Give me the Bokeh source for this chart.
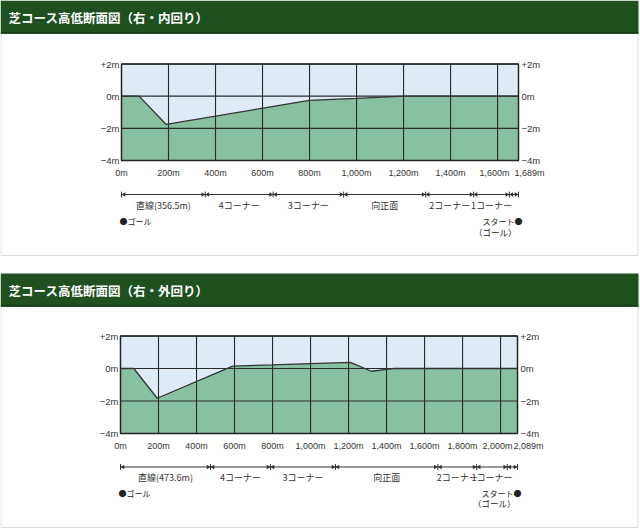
import math
from bokeh.plotting import figure
from bokeh.models import Range1d, ColumnDataSource
from bokeh.core.properties import value
from bokeh.embed import file_html
from bokeh.resources import INLINE

# ---------------- data ----------------
titles = ["芝コース高低断面図（右・内回り）", "芝コース高低断面図（右・外回り）"]

inner_dist = [0, 75, 190, 800, 1000, 1200, 1689]
inner_elev = [0, 0, -1.76, -0.26, -0.14, 0, 0]

outer_dist = [0, 70, 193, 590, 800, 1000, 1210, 1320, 1400, 1440, 2089]
outer_elev = [0, 0, -1.83, 0.15, 0.22, 0.30, 0.38, -0.17, -0.05, 0, 0]

inner_xticks = [0, 200, 400, 600, 800, 1000, 1200, 1400, 1600, 1689]
inner_xlabels = ["0m", "200m", "400m", "600m", "800m", "1,000m", "1,200m", "1,400m", "1,600m", "1,689m"]
outer_xticks = [0, 200, 400, 600, 800, 1000, 1200, 1400, 1600, 1800, 2000, 2089]
outer_xlabels = ["0m", "200m", "400m", "600m", "800m", "1,000m", "1,200m", "1,400m", "1,600m",
                 "1,800m", "2,000m", "2,089m"]

yticks = [2, 0, -2, -4]
ylabels = ["+2m", "0m", "−2m", "−4m"]

inner_sections = [0, 356.5, 645, 945, 1294, 1498, 1650, 1689]
inner_section_labels = ["直線(356.5m)", "4コーナー", "3コーナー", "向正面", "2コーナー", "1コーナー", ""]
outer_sections = [0, 473.6, 789, 1131, 1670, 1874, 2035, 2089]
outer_section_labels = ["直線(473.6m)", "4コーナー", "3コーナー", "向正面", "2コーナー", "1コーナー", ""]

# ---------------- style ----------------
W, H = 640, 530
HEADER = "#1e5020"
SKY = "#deeaf6"
GROUND = "#88c1a1"
GRID = "#2a2a2a"
TXT = "#333333"
NUM_FONT = value("Liberation Sans")
JP_FONT = value("Noto Sans CJK JP")

p = figure(width=W, height=H, x_range=Range1d(0, W), y_range=Range1d(H, 0),
           min_border=0, x_axis_location=None, y_axis_location=None,
           toolbar_location=None, output_backend="svg",
           outline_line_color=None, background_fill_color="white",
           border_fill_color="white")
for g in p.grid:
    g.visible = False


def add_ranges(tag, px0, px1, length, py_top, py_bot):
    # x: meters -> pixels ; y: elevation (+2 .. -4) -> pixels
    sx = (px1 - px0) / length
    p.extra_x_ranges[tag + "x"] = Range1d(-px0 / sx, (W - px0) / sx)
    sy = (py_bot - py_top) / 6.0
    p.extra_y_ranges[tag + "y"] = Range1d(2 - (H - py_top) / sy, 2 + py_top / sy)
    return sx


def panel(tag, title, top, hdr_h, bottom, plot_box, length, dist, elev,
          xticks, xlabels, sections, sec_labels, sec_y, goal_y):
    px0, px1, py_top, py_bot = plot_box
    # header + panel box
    p.quad(left=[0.5], right=[637.5], top=[top + hdr_h], bottom=[bottom],
           fill_color="white", line_color="#dddddd", line_width=1)
    p.quad(left=[0], right=[638], top=[top], bottom=[top + hdr_h],
           fill_color=HEADER, line_color=None)
    p.segment(x0=[0], x1=[638], y0=[top + hdr_h - 0.5], y1=[top + hdr_h - 0.5],
              line_color="#123812", line_width=1.5)
    p.text(x=[8], y=[top + hdr_h / 2 + 0.5], text=[title], text_color="white",
           text_font=JP_FONT, text_font_style="bold", text_font_size="12.5px",
           text_baseline="middle", text_align="left")

    sx = add_ranges(tag, px0, px1, length, py_top, py_bot)
    xr, yr = tag + "x", tag + "y"
    src = ColumnDataSource(dict(x=dist, y=elev, top=[2] * len(dist), bot=[-4] * len(dist)))
    p.varea(x="x", y1="y", y2="top", source=src, fill_color=SKY,
            x_range_name=xr, y_range_name=yr)
    p.varea(x="x", y1="bot", y2="y", source=src, fill_color=GROUND,
            x_range_name=xr, y_range_name=yr)
    # grid
    gx = list(range(0, int(length) + 1, 200)) + [length]
    p.segment(x0=gx, x1=gx, y0=[-4] * len(gx), y1=[2] * len(gx), line_color=GRID,
              line_width=1.1, x_range_name=xr, y_range_name=yr)
    p.segment(x0=[0] * 4, x1=[length] * 4, y0=yticks, y1=yticks, line_color=GRID,
              line_width=1.1, x_range_name=xr, y_range_name=yr)
    p.line(x="x", y="y", source=src, line_color="#333333", line_width=1.3,
           x_range_name=xr, y_range_name=yr)
    p.quad(left=[0], right=[length], top=[2], bottom=[-4], fill_color=None,
           line_color="#222222", line_width=1.4, x_range_name=xr, y_range_name=yr)

    # y tick labels
    p.text(x=[0] * 4, y=yticks, text=ylabels, x_offset=-2, text_align="right",
           text_baseline="middle", text_font=NUM_FONT, text_font_size="9.5px",
           text_color=TXT, x_range_name=xr, y_range_name=yr)
    p.text(x=[length] * 4, y=yticks, text=ylabels, x_offset=3, text_align="left",
           text_baseline="middle", text_font=NUM_FONT, text_font_size="9.5px",
           text_color=TXT, x_range_name=xr, y_range_name=yr)
    # x tick labels
    offs = [0] * (len(xticks) - 2) + [-3, 11]
    xs = ColumnDataSource(dict(x=xticks, t=xlabels, o=offs, y=[-4] * len(xticks)))
    p.text(x="x", y="y", text="t", x_offset="o", y_offset=12, source=xs,
           text_align="center", text_baseline="middle", text_font=NUM_FONT,
           text_font_size="9px", text_color=TXT, x_range_name=xr, y_range_name=yr)

    # section bar
    n = len(sections)
    p.segment(x0=[0], x1=[length], y0=[sec_y], y1=[sec_y], line_color="#333333",
              line_width=1, x_range_name=xr)
    p.segment(x0=sections, x1=sections, y0=[sec_y - 3] * n, y1=[sec_y + 3] * n,
              line_color="#333333", line_width=1, x_range_name=xr)
    inset = 2.5 / sx
    rx = [b - inset for b in sections[1:]]
    lx = [b + inset for b in sections[:-1]]
    p.scatter(x=rx, y=[sec_y] * len(rx), marker="triangle", size=4.5, angle=-math.pi / 2,
              fill_color="#333333", line_color=None, x_range_name=xr)
    p.scatter(x=lx, y=[sec_y] * len(lx), marker="triangle", size=4.5, angle=math.pi / 2,
              fill_color="#333333", line_color=None, x_range_name=xr)
    mids = [(sections[i] + sections[i + 1]) / 2 for i in range(n - 1)]
    p.text(x=mids, y=[sec_y + 10.5] * len(mids), text=sec_labels, text_align="center",
           text_baseline="middle", text_font=JP_FONT, text_font_size="9px",
           text_color=TXT, x_range_name=xr)
    # goal / start marks
    p.text(x=[0], y=[goal_y], text=["●ゴール"], x_offset=-2, text_align="left",
           text_baseline="middle", text_font=JP_FONT, text_font_size="8px",
           text_color="#222222", x_range_name=xr)
    p.text(x=[length], y=[goal_y], text=["スタート●"], x_offset=4, text_align="right",
           text_baseline="middle", text_font=JP_FONT, text_font_size="8px",
           text_color="#222222", x_range_name=xr)
    p.text(x=[length], y=[goal_y + 10], text=["（ゴール）"], x_offset=-2, text_align="right",
           text_baseline="middle", text_font=JP_FONT, text_font_size="8.5px",
           text_color="#222222", x_range_name=xr)


panel("a", titles[0], 0, 33, 255, (121, 518, 63.5, 160), 1689, inner_dist, inner_elev,
      inner_xticks, inner_xlabels, inner_sections, inner_section_labels, 194, 221)
panel("b", titles[1], 273, 33, 527, (120, 517, 335.5, 433), 2089, outer_dist, outer_elev,
      outer_xticks, outer_xlabels, outer_sections, outer_section_labels, 466.5, 492.5)

open("out.html", "w").write(file_html(p, INLINE))
